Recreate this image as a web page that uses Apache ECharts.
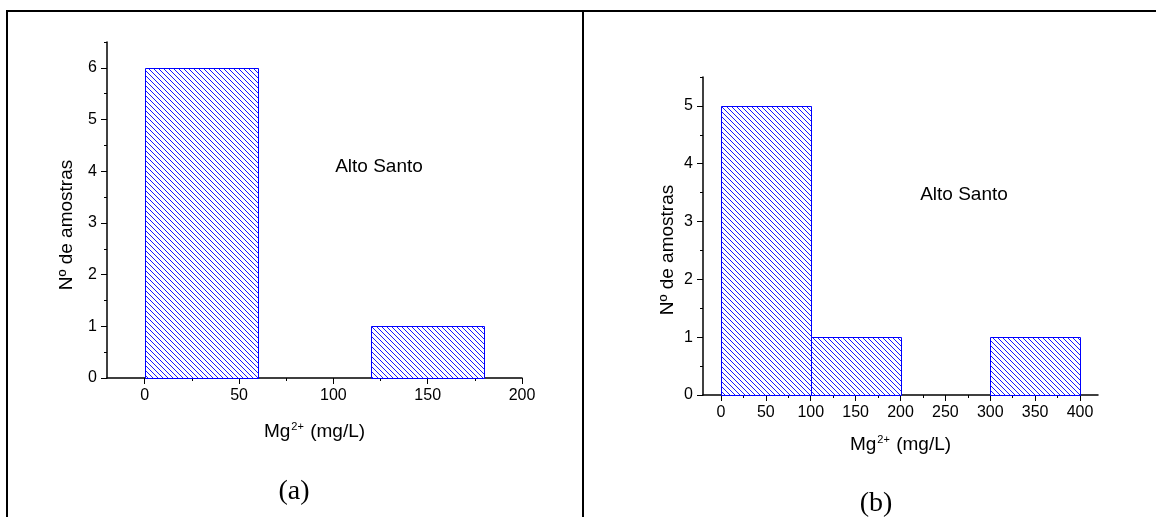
<!DOCTYPE html>
<html>
<head>
<meta charset="utf-8">
<script src="https://cdn.jsdelivr.net/npm/echarts@6/dist/echarts.min.js"></script>
<style>
html,body{margin:0;padding:0;background:#fff;}
#chart{width:1156px;height:517px;}
</style>
</head>
<body>
<div id="chart"></div>
<script>
// ---- data ----
const binStartA = [0, 60, 120];
const binEndA   = [60, 120, 180];
const countA    = [6, 0, 1];
const binStartB = [0, 100, 200, 300];
const binEndB   = [100, 200, 300, 400];
const countB    = [5, 1, 0, 1];
const xTicksA = [0, 50, 100, 150, 200];
const xMinorA = [25, 75, 125, 175];
const yTicksA = [0, 1, 2, 3, 4, 5, 6];
const yMinorA = [0.5, 1.5, 2.5, 3.5, 4.5, 5.5, 6.5];
const xTicksB = [0, 50, 100, 150, 200, 250, 300, 350, 400];
const xMinorB = [25, 75, 125, 175, 225, 275, 325, 375];
const yTicksB = [0, 1, 2, 3, 4, 5];
const yMinorB = [0.5, 1.5, 2.5, 3.5, 4.5, 5.5];
const yTitle = 'N\u00BA de amostras';
const siteName = 'Alto Santo';
const panelA = '(a)';
const panelB = '(b)';

// hatch pattern
const P = 5;
const tile = document.createElement('canvas');
tile.width = P; tile.height = P;
const tc = tile.getContext('2d');
tc.fillStyle = '#ffffff'; tc.fillRect(0, 0, P, P);
tc.fillStyle = '#1a1aff';
for (let i = 0; i < P; i++) tc.fillRect(i, i, 1, 1);
const hatch = { image: tile, repeat: 'repeat' };

const FONT = '"Liberation Sans", Arial, sans-serif';
const SERIF = '"Liberation Serif", "Times New Roman", serif';

function mkData(s, e, c) { return s.map((v, i) => [v, e[i], c[i]]); }

function renderBar(params, api) {
  const c = api.value(2);
  if (!c) return null;
  const p0 = api.coord([api.value(0), c]);
  const p1 = api.coord([api.value(1), 0]);
  const x0 = Math.round(p0[0]) + 0.5, x1 = Math.round(p1[0]) + 0.5;
  const y0 = Math.round(p0[1]) + 0.5, y1 = Math.round(p1[1]) + 0.5;
  return {
    type: 'rect',
    shape: { x: x0, y: y0, width: x1 - x0, height: y1 - y0 },
    style: { fill: hatch, stroke: '#0000ff', lineWidth: 1 }
  };
}

const labelStyle = { color: '#000', fontSize: 16, fontFamily: FONT };
const nameRich = {
  a: { fontSize: 19, fontFamily: FONT, color: '#000', lineHeight: 20, verticalAlign: 'bottom' },
  s: { fontSize: 11, fontFamily: FONT, color: '#000', lineHeight: 20, verticalAlign: 'top', padding: [0, 1, 0, 1] }
};

function xMain(grid, min, max, ticks, gap) {
  return {
    type: 'value', gridIndex: grid, position: 'bottom', min: min, max: max,
    name: '{a|Mg}{s|2+}{a| (mg/L)}', nameLocation: 'middle', nameGap: gap,
    nameTextStyle: { rich: nameRich },
    axisLine: { show: true, onZero: false, lineStyle: { color: '#000', width: 1.5 } },
    axisTick: { show: true, inside: false, length: 6, customValues: ticks, lineStyle: { color: '#000', width: 1 } },
    axisLabel: { show: true, margin: 10, customValues: ticks, ...labelStyle },
    splitLine: { show: false }
  };
}
function xMinor(grid, min, max, ticks) {
  return {
    type: 'value', gridIndex: grid, position: 'bottom', min: min, max: max,
    axisLine: { show: false, onZero: false },
    axisTick: { show: true, inside: false, length: 3, customValues: ticks, lineStyle: { color: '#000', width: 1 } },
    axisLabel: { show: false }, splitLine: { show: false }
  };
}
function yMain(grid, max, ticks) {
  return {
    type: 'value', gridIndex: grid, position: 'left', min: 0, max: max,
    axisLine: { show: true, onZero: false, lineStyle: { color: '#000', width: 1.5 } },
    axisTick: { show: true, inside: false, length: 6, customValues: ticks, lineStyle: { color: '#000', width: 1 } },
    axisLabel: { show: true, margin: 10, customValues: ticks, ...labelStyle },
    splitLine: { show: false }
  };
}
function yMinor(grid, max, ticks) {
  return {
    type: 'value', gridIndex: grid, position: 'left', min: 0, max: max,
    axisLine: { show: false, onZero: false },
    axisTick: { show: true, inside: false, length: 3, customValues: ticks, lineStyle: { color: '#000', width: 1 } },
    axisLabel: { show: false }, splitLine: { show: false }
  };
}

const option = {
  backgroundColor: '#fff',
  animation: false,
  grid: [
    { left: 107, top: 42, width: 415, height: 336 },
    { left: 703, top: 77, width: 395, height: 318 }
  ],
  xAxis: [
    xMain(0, -20, 200, xTicksA, 43),
    xMinor(0, -20, 200, xMinorA),
    xMain(1, -20, 420, xTicksB, 39),
    xMinor(1, -20, 420, xMinorB)
  ],
  yAxis: [
    yMain(0, 6.5, yTicksA),
    yMinor(0, 6.5, yMinorA),
    yMain(1, 5.5, yTicksB),
    yMinor(1, 5.5, yMinorB)
  ],
  series: [
    { type: 'custom', xAxisIndex: 0, yAxisIndex: 0, renderItem: renderBar,
      encode: { x: [0, 1], y: 2 }, data: mkData(binStartA, binEndA, countA), clip: false },
    { type: 'custom', xAxisIndex: 2, yAxisIndex: 2, renderItem: renderBar,
      encode: { x: [0, 1], y: 2 }, data: mkData(binStartB, binEndB, countB), clip: false }
  ],
  graphic: [
    // frame
    { type: 'line', shape: { x1: 6, y1: 11, x2: 1156, y2: 11 }, style: { stroke: '#000', lineWidth: 2 } },
    { type: 'line', shape: { x1: 7, y1: 10, x2: 7, y2: 517 }, style: { stroke: '#000', lineWidth: 2 } },
    { type: 'line', shape: { x1: 583, y1: 10, x2: 583, y2: 517 }, style: { stroke: '#000', lineWidth: 2 } },
    // y titles
    { type: 'text', x: 67, y: 225, rotation: Math.PI / 2,
      style: { text: yTitle, font: '19px ' + FONT, fill: '#000', textAlign: 'center', textVerticalAlign: 'middle' } },
    { type: 'text', x: 668, y: 250, rotation: Math.PI / 2,
      style: { text: yTitle, font: '19px ' + FONT, fill: '#000', textAlign: 'center', textVerticalAlign: 'middle' } },
    // annotations
    { type: 'text', x: 379, y: 167,
      style: { text: siteName, font: '19px ' + FONT, fill: '#000', textAlign: 'center', textVerticalAlign: 'middle' } },
    { type: 'text', x: 964, y: 195,
      style: { text: siteName, font: '19px ' + FONT, fill: '#000', textAlign: 'center', textVerticalAlign: 'middle' } },
    { type: 'text', x: 294, y: 492,
      style: { text: panelA, font: '28px ' + SERIF, fill: '#000', textAlign: 'center', textVerticalAlign: 'middle' } },
    { type: 'text', x: 876, y: 504,
      style: { text: panelB, font: '28px ' + SERIF, fill: '#000', textAlign: 'center', textVerticalAlign: 'middle' } }
  ]
};

const chart = echarts.init(document.getElementById('chart'), null, { renderer: 'canvas' });
chart.setOption(option);
</script>
</body>
</html>
